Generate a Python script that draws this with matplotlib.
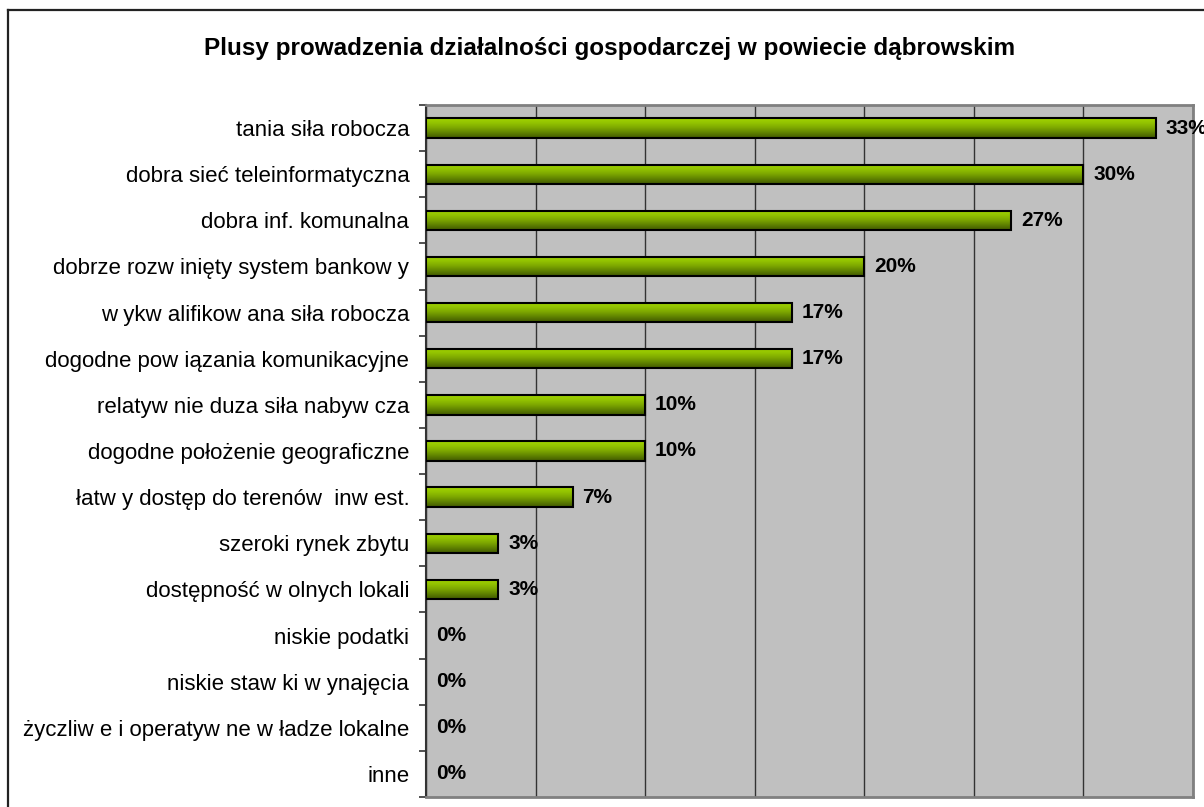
import matplotlib
matplotlib.use("Agg")
import matplotlib.pyplot as plt
from matplotlib.colors import LinearSegmentedColormap
from matplotlib.patches import Rectangle
from matplotlib.lines import Line2D
import numpy as np

plt.rcParams['font.family'] = ['Liberation Sans', 'DejaVu Sans']

title = "Plusy prowadzenia działalności gospodarczej w powiecie dąbrowskim"
categories = [
    "tania siła robocza",
    "dobra sieć teleinformatyczna",
    "dobra inf. komunalna",
    "dobrze rozw inięty system bankow y",
    "w ykw alifikow ana siła robocza",
    "dogodne pow iązania komunikacyjne",
    "relatyw nie duza siła nabyw cza",
    "dogodne położenie geograficzne",
    "łatw y dostęp do terenów  inw est.",
    "szeroki rynek zbytu",
    "dostępność w olnych lokali",
    "niskie podatki",
    "niskie staw ki w ynajęcia",
    "życzliw e i operatyw ne w ładze lokalne",
    "inne",
]
values = [33.3, 30.0, 26.7, 20.0, 16.7, 16.7, 10.0, 10.0, 6.7, 3.3, 3.3, 0, 0, 0, 0]
x_ticks = [0, 5, 10, 15, 20, 25, 30, 35]

W, H = 1204, 807
fig = plt.figure(figsize=(W / 100, H / 100), dpi=100)
fig.patch.set_facecolor("white")

# outer chart border (left and top visible)
fig.add_artist(Line2D([8 / W, 8 / W], [-0.1, 1 - 10 / H], transform=fig.transFigure,
                      color="#222222", lw=1.6))
fig.add_artist(Line2D([8 / W, 1.1], [1 - 10 / H, 1 - 10 / H], transform=fig.transFigure,
                      color="#222222", lw=1.6))

ax = fig.add_axes([426 / W, 1 - 797 / H, (1193 - 426) / W, (797 - 105) / H])
ax.set_facecolor("#c0c0c0")

n = len(categories)
y = np.arange(n)
bh = 0.42
cmap = LinearSegmentedColormap.from_list(
    "g", ["#a2d400", "#92c200", "#7ca600", "#5e8000", "#425a00"])
grad = np.linspace(0, 1, 64).reshape(-1, 1)

bars = ax.barh(y, values, height=bh, color="#7fa800", edgecolor="none", zorder=3)
for b, v, yy in zip(bars, values, y):
    if v > 0:
        im = ax.imshow(grad, extent=[0, v, yy + bh / 2, yy - bh / 2], origin="upper",
                       aspect="auto", cmap=cmap, zorder=3.5, interpolation="bilinear")
        im.set_clip_path(b)
        ax.add_patch(Rectangle((0, yy - bh / 2), v, bh, fill=False,
                               edgecolor="black", lw=1.5, zorder=4))
    ax.annotate(f"{v:.0f}%", xy=(v, yy), xytext=(7, 0), textcoords="offset points",
                ha="left", va="center", fontsize=15, fontweight="bold",
                color="black", annotation_clip=False, clip_on=False, zorder=5)

ax.set_xlim(0, 35)
ax.set_ylim(n - 0.5, -0.5)
ax.set_xticks(x_ticks)
ax.xaxis.grid(True, color="#333333", lw=1.0, zorder=1)
ax.set_axisbelow(True)
ax.tick_params(axis="x", length=0, labelbottom=False)

ax.set_yticks(y)
ax.set_yticklabels(categories, fontsize=16)
ax.set_yticks(np.arange(n + 1) - 0.5, minor=True)
ax.tick_params(axis="y", which="major", length=0, pad=12)
ax.tick_params(axis="y", which="minor", length=5, width=1.2, color="#333333")

for s in ["top", "right", "bottom"]:
    ax.spines[s].set_color("#808080")
    ax.spines[s].set_linewidth(2)
ax.spines["left"].set_color("#333333")
ax.spines["left"].set_linewidth(1.5)

fig.text(610 / W, 1 - 48 / H, title, ha="center", va="center",
         fontsize=17.5, fontweight="bold")

fig.savefig("out.png", dpi=100)
